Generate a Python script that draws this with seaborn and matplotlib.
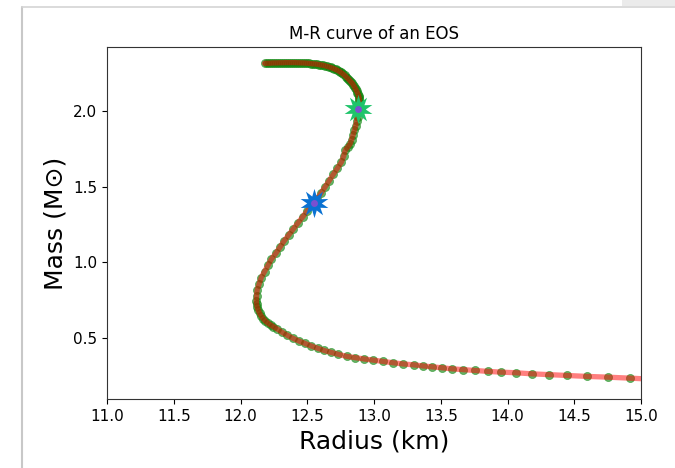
import matplotlib
matplotlib.use("Agg")
import matplotlib.pyplot as plt
import seaborn as sns
import pandas as pd
from matplotlib.patches import Rectangle
from matplotlib.lines import Line2D

sns.set_style("ticks")
plt.rcParams['font.family'] = ['DejaVu Sans']
plt.rcParams.update({'text.color': 'black', 'axes.labelcolor': 'black',
                     'xtick.color': 'black', 'ytick.color': 'black'})

# Radius (km) of the M-R sequence, from low mass (right) to max mass (top left)
radius = [15.30, 15.10, 14.918, 14.751, 14.593, 14.443, 14.311, 14.181, 14.064, 13.951,
          13.852, 13.757, 13.669, 13.582, 13.507, 13.432, 13.365, 13.300, 13.219, 13.142,
          13.067, 12.996, 12.925, 12.858, 12.795, 12.734, 12.678, 12.625, 12.577, 12.528,
          12.483, 12.438, 12.393, 12.352, 12.311, 12.270, 12.247, 12.225, 12.205, 12.186,
          12.170, 12.155, 12.143, 12.133, 12.125, 12.120, 12.118, 12.120, 12.125, 12.140,
          12.155, 12.180, 12.205, 12.230, 12.265, 12.295, 12.325, 12.360, 12.395, 12.430,
          12.465, 12.500, 12.540, 12.575, 12.605, 12.635, 12.665, 12.695, 12.725, 12.755,
          12.772, 12.785, 12.803, 12.820, 12.832, 12.843, 12.853, 12.862, 12.870, 12.877,
          12.882, 12.886, 12.889, 12.890, 12.889, 12.887, 12.884, 12.880, 12.875, 12.870,
          12.864, 12.858, 12.852, 12.845, 12.838, 12.830, 12.823, 12.815, 12.807, 12.798,
          12.789, 12.780, 12.771, 12.762, 12.754, 12.745, 12.735, 12.724, 12.712, 12.700,
          12.688, 12.675, 12.662, 12.648, 12.634, 12.620, 12.605, 12.590, 12.575, 12.560,
          12.545, 12.530, 12.515, 12.500, 12.485, 12.470, 12.455, 12.440, 12.425, 12.410,
          12.395, 12.380, 12.365, 12.350, 12.335, 12.320, 12.305, 12.290, 12.275, 12.260,
          12.245, 12.230, 12.215, 12.200, 12.180]
# Gravitational mass (solar masses)
mass = [0.222, 0.230, 0.237, 0.244, 0.249, 0.255, 0.260, 0.266, 0.273, 0.277,
        0.282, 0.288, 0.293, 0.299, 0.306, 0.312, 0.318, 0.325, 0.331, 0.339,
        0.348, 0.356, 0.364, 0.373, 0.381, 0.394, 0.407, 0.420, 0.435, 0.450,
        0.466, 0.482, 0.500, 0.519, 0.540, 0.564, 0.576, 0.588, 0.600, 0.614,
        0.630, 0.647, 0.665, 0.685, 0.705, 0.725, 0.745, 0.780, 0.820, 0.860,
        0.900, 0.940, 0.980, 1.020, 1.060, 1.100, 1.140, 1.180, 1.220, 1.260,
        1.300, 1.340, 1.380, 1.420, 1.460, 1.500, 1.540, 1.580, 1.620, 1.660,
        1.700, 1.740, 1.760, 1.780, 1.810, 1.840, 1.870, 1.900, 1.930, 1.960,
        1.990, 2.020, 2.050, 2.065, 2.080, 2.090, 2.100, 2.110, 2.120, 2.130,
        2.140, 2.150, 2.160, 2.170, 2.180, 2.188, 2.195, 2.203, 2.210, 2.218,
        2.225, 2.233, 2.240, 2.246, 2.252, 2.257, 2.262, 2.267, 2.272, 2.277,
        2.281, 2.285, 2.289, 2.292, 2.296, 2.299, 2.301, 2.304, 2.306, 2.308,
        2.309, 2.310, 2.312, 2.313, 2.314, 2.315, 2.315, 2.316, 2.316, 2.317,
        2.317, 2.317, 2.317, 2.317, 2.317, 2.316, 2.316, 2.316, 2.315, 2.315,
        2.315, 2.314, 2.313, 2.313, 2.312]

# highlighted stars (1.4 Msun and 2.0 Msun configurations)
star_radius = [12.55, 12.88]
star_mass = [1.39, 2.01]
star_colors = ['#0a72d2', '#1fc46a']

df = pd.DataFrame({"Radius": radius, "Mass": mass})

fig = plt.figure(figsize=(6.75, 4.68), dpi=100)
# screenshot frame
fig.patches.append(Rectangle((622/675, 1 - 6/468), 53/675, 6/468, transform=fig.transFigure,
                             facecolor='#ebebeb', edgecolor='none', zorder=0))
fig.lines.append(Line2D([22/675, 22/675], [0, 1 - 7/468], transform=fig.transFigure,
                        color='#c8c8c8', lw=1.5))
fig.lines.append(Line2D([22/675, 1], [1 - 7/468, 1 - 7/468], transform=fig.transFigure,
                        color='#d4d4d4', lw=1.2))

ax = fig.add_axes([107/675, 1 - 399/468, 534/675, 352/468])

sns.scatterplot(data=df, x="Radius", y="Mass", ax=ax, s=34, color='#008000',
                edgecolor='#1f8f1f', linewidth=0.6, alpha=0.6, zorder=2, legend=False)
sns.lineplot(data=df, x="Radius", y="Mass", ax=ax, sort=False, estimator=None,
             color='red', lw=3.8, alpha=0.5, zorder=3)

for r, m, c in zip(star_radius, star_mass, star_colors):
    ax.plot(r, m, marker=(10, 1, 0), markersize=21, color=c, markeredgewidth=0, zorder=4)
    ax.plot(r, m, marker='o', markersize=5, color='#7a50d0', markeredgewidth=0, zorder=5)

ax.set_xlim(11.0, 15.0)
ax.set_ylim(0.1, 2.42)
ax.set_xticks([11.0, 11.5, 12.0, 12.5, 13.0, 13.5, 14.0, 14.5, 15.0])
ax.set_yticks([0.5, 1.0, 1.5, 2.0])
ax.tick_params(labelsize=11)
ax.set_xlabel("Radius (km)", fontsize=18)
ax.set_ylabel("Mass (M\u2299)", fontsize=18)
ax.set_title("M-R curve of an EOS", fontsize=12)
for s in ax.spines.values():
    s.set_visible(True)
    s.set_color('#333333')

fig.savefig("out.png", dpi=100)
